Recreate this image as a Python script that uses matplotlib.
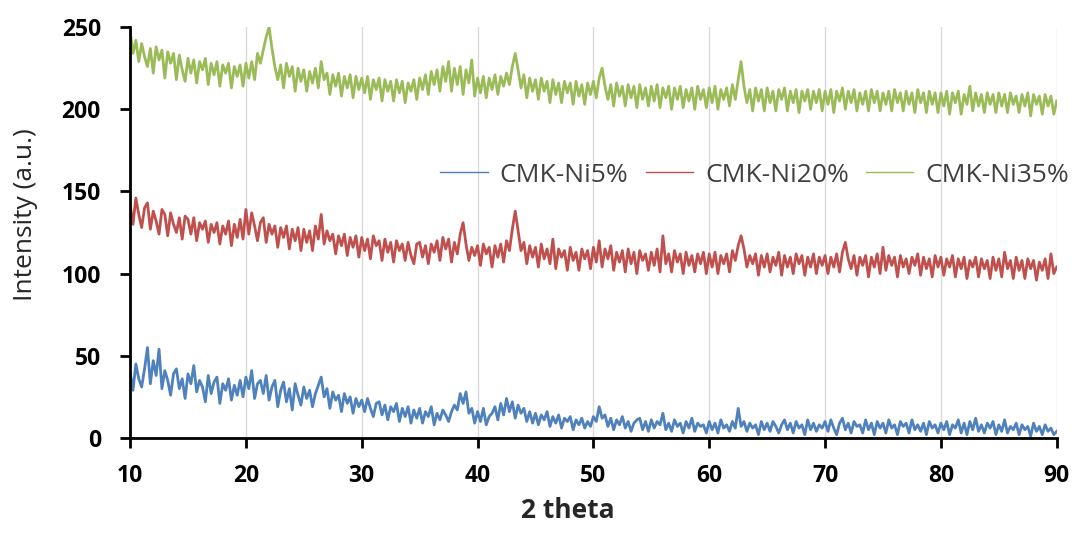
import numpy as np
import matplotlib
matplotlib.use("Agg")
import matplotlib.pyplot as plt

# 2 theta grid, 0.25 deg step from 10 to 90
two_theta = np.arange(10, 90.001, 0.25)

# CMK-Ni5% (one row = 5 deg)
ni5 = [
    40, 29, 45, 36, 31, 42, 55, 33, 47, 38, 54, 30, 41, 35, 26, 39, 42, 30, 36, 24,
    39, 33, 44, 28, 35, 31, 22, 38, 27, 34, 37, 21, 33, 29, 36, 23, 32, 26, 35, 25,
    37, 30, 41, 24, 33, 35, 27, 38, 23, 31, 35, 19, 29, 34, 22, 30, 17, 33, 26, 20,
    31, 24, 29, 19, 27, 32, 37, 25, 30, 18, 28, 23, 26, 16, 27, 21, 25, 15, 24, 19,
    23, 16, 24, 18, 13, 21, 22, 14, 20, 11, 19, 16, 21, 10, 18, 13, 19, 9, 17, 12,
    18, 9, 16, 13, 19, 8, 15, 11, 17, 14, 10, 16, 20, 17, 27, 21, 28, 15, 18, 9,
    16, 10, 18, 8, 13, 15, 19, 11, 21, 14, 24, 16, 22, 12, 20, 15, 18, 10, 16, 9,
    15, 8, 14, 11, 16, 7, 13, 9, 14, 6, 12, 10, 13, 5, 11, 8, 12, 6, 10, 7,
    13, 10, 19, 12, 14, 7, 12, 5, 11, 8, 13, 6, 10, 4, 9, 11, 12, 5, 10, 4,
    11, 6, 10, 8, 15, 5, 9, 4, 11, 7, 9, 3, 10, 6, 12, 4, 9, 7, 8, 3,
    10, 5, 9, 3, 11, 6, 8, 4, 10, 6, 18, 7, 10, 4, 9, 6, 8, 2, 10, 5,
    9, 4, 10, 7, 3, 8, 11, 5, 9, 3, 10, 6, 8, 2, 11, 5, 9, 4, 8, 6,
    10, 4, 11, 6, 2, 9, 12, 5, 9, 3, 10, 7, 8, 3, 11, 5, 9, 2, 10, 6,
    9, 3, 11, 6, 8, 2, 10, 7, 9, 3, 11, 5, 8, 4, 9, 2, 10, 6, 8, 3,
    9, 5, 10, 2, 8, 6, 11, 3, 9, 2, 10, 5, 12, 4, 8, 3, 9, 6, 10, 2,
    8, 4, 11, 3, 7, 5, 9, 2, 8, 5, 7, 1, 9, 4, 7, 2, 8, 4, 6, 2,
    4,
]

# CMK-Ni20%
ni20 = [
    142, 130, 146, 136, 128, 140, 143, 127, 138, 132, 124, 139, 136, 123, 137, 130, 125, 134, 121, 135,
    133, 124, 134, 120, 131, 127, 132, 119, 130, 125, 131, 118, 129, 124, 132, 117, 130, 122, 133, 121,
    139, 124, 137, 129, 120, 131, 134, 119, 130, 124, 129, 116, 128, 122, 129, 115, 127, 120, 128, 114,
    127, 119, 126, 114, 129, 121, 136, 118, 126, 120, 124, 112, 123, 117, 124, 111, 122, 116, 123, 110,
    122, 114, 121, 109, 123, 117, 120, 108, 121, 113, 119, 107, 120, 114, 118, 108, 119, 111, 106, 118,
    119, 110, 117, 106, 118, 113, 120, 108, 122, 115, 121, 107, 119, 112, 124, 131, 118, 108, 116, 111,
    117, 105, 118, 112, 116, 104, 117, 110, 118, 107, 120, 114, 127, 138, 126, 114, 119, 106, 117, 110,
    116, 104, 118, 109, 115, 106, 121, 103, 115, 110, 114, 102, 116, 108, 113, 102, 115, 109, 114, 103,
    116, 107, 120, 104, 115, 109, 117, 102, 113, 107, 114, 101, 115, 106, 113, 100, 114, 108, 112, 102,
    113, 105, 115, 101, 123, 106, 112, 101, 114, 107, 112, 100, 113, 105, 111, 101, 112, 106, 113, 100,
    112, 104, 113, 100, 111, 106, 112, 101, 114, 108, 117, 123, 115, 104, 111, 106, 112, 99, 111, 104,
    112, 101, 110, 105, 113, 99, 111, 104, 110, 100, 112, 106, 111, 99, 110, 104, 112, 100, 110, 105,
    111, 100, 110, 104, 112, 101, 113, 119, 109, 103, 111, 99, 110, 105, 111, 98, 110, 104, 112, 100,
    116, 102, 111, 105, 110, 98, 111, 104, 109, 100, 110, 105, 112, 99, 110, 103, 109, 98, 111, 104,
    110, 99, 109, 104, 111, 98, 109, 103, 110, 97, 108, 104, 110, 98, 109, 103, 108, 97, 110, 102,
    109, 98, 113, 103, 108, 97, 110, 102, 108, 97, 109, 103, 108, 96, 107, 102, 109, 97, 112, 100,
    104,
]

# CMK-Ni35%
ni35 = [
    248, 234, 242, 229, 240, 232, 226, 237, 222, 238, 230, 236, 219, 235, 228, 234, 218, 233, 224, 217,
    231, 222, 230, 216, 229, 224, 231, 215, 228, 221, 229, 214, 227, 222, 228, 213, 226, 220, 227, 214,
    228, 219, 229, 218, 234, 228, 236, 244, 250, 237, 226, 218, 227, 213, 228, 220, 226, 211, 225, 217,
    224, 211, 223, 216, 225, 213, 229, 218, 222, 209, 221, 214, 222, 208, 220, 213, 221, 207, 220, 212,
    219, 210, 220, 206, 218, 212, 219, 205, 218, 211, 217, 205, 218, 210, 217, 204, 216, 211, 218, 206,
    219, 212, 221, 209, 223, 215, 224, 211, 226, 217, 229, 211, 225, 215, 226, 209, 224, 216, 230, 208,
    219, 210, 220, 207, 219, 212, 221, 209, 220, 214, 222, 215, 226, 234, 224, 213, 221, 207, 219, 211,
    218, 206, 219, 211, 217, 204, 218, 209, 216, 204, 217, 210, 216, 203, 217, 208, 215, 203, 216, 209,
    217, 207, 219, 225, 214, 206, 215, 202, 216, 208, 214, 202, 215, 207, 214, 201, 215, 206, 213, 202,
    214, 205, 215, 201, 213, 207, 214, 200, 213, 206, 214, 201, 212, 205, 213, 200, 214, 206, 212, 201,
    213, 204, 214, 200, 212, 206, 213, 202, 215, 206, 218, 229, 214, 204, 212, 199, 213, 205, 212, 199,
    213, 204, 211, 199, 212, 206, 213, 199, 211, 204, 212, 198, 211, 205, 212, 200, 211, 204, 212, 199,
    211, 203, 212, 198, 211, 205, 213, 200, 211, 204, 212, 199, 210, 203, 211, 199, 212, 204, 211, 199,
    210, 203, 211, 199, 212, 204, 210, 199, 211, 203, 210, 198, 212, 204, 210, 198, 211, 203, 210, 198,
    210, 202, 211, 197, 210, 204, 211, 197, 209, 203, 214, 199, 210, 202, 209, 198, 210, 203, 209, 198,
    210, 202, 209, 198, 210, 203, 208, 198, 209, 202, 210, 196, 209, 203, 208, 197, 209, 202, 208, 197,
    205,
]

labels = ["CMK-Ni5%", "CMK-Ni20%", "CMK-Ni35%"]
colors = ["#4F81BD", "#C0504D", "#9BBB59"]
x_ticks = [10, 20, 30, 40, 50, 60, 70, 80, 90]
y_ticks = [0, 50, 100, 150, 200, 250]

plt.rcParams['font.family'] = ['Open Sans', 'DejaVu Sans']

fig = plt.figure(figsize=(10.75, 5.42), dpi=100)
ax = fig.add_axes([0.121, 0.192, 0.862, 0.758])

for series, lab, col in zip([ni5, ni20, ni35], labels, colors):
    ax.plot(two_theta, series, color=col, linewidth=2.0, label=lab)

ax.set_xlim(10, 90)
ax.set_ylim(0, 250)
ax.set_xticks(x_ticks)
ax.set_yticks(y_ticks)
ax.grid(axis='x', color='#d9d9d9', linewidth=1)
ax.set_axisbelow(True)

for s in ['top', 'right']:
    ax.spines[s].set_visible(False)
for s in ['left', 'bottom']:
    ax.spines[s].set_linewidth(2)
    ax.spines[s].set_color('black')
ax.tick_params(direction='out', length=7, width=2, labelsize=16.5)
ax.tick_params(axis='x', pad=12)
ax.tick_params(axis='y', pad=14)
for t in ax.get_xticklabels() + ax.get_yticklabels():
    t.set_fontweight('bold')

fig.text(26 / 1075, 1 - 215 / 542, "Intensity (a.u.)", rotation=90,
         ha='center', va='center', fontsize=19, color='#262626')
fig.text(568 / 1075, 1 - 511 / 542, "2 theta", ha='center', va='center',
         fontsize=19, fontweight='bold', color='#262626')

leg = ax.legend(loc='center', bbox_to_anchor=(0.674, 0.64), ncol=3, frameon=False,
                fontsize=19, handlelength=1.8, columnspacing=0.65, handletextpad=0.45,
                borderaxespad=0, borderpad=0)
for h in leg.get_lines():
    h.set_linewidth(1.0)
for t in leg.get_texts():
    t.set_color('#404040')

plt.savefig("out.png", dpi=100)
